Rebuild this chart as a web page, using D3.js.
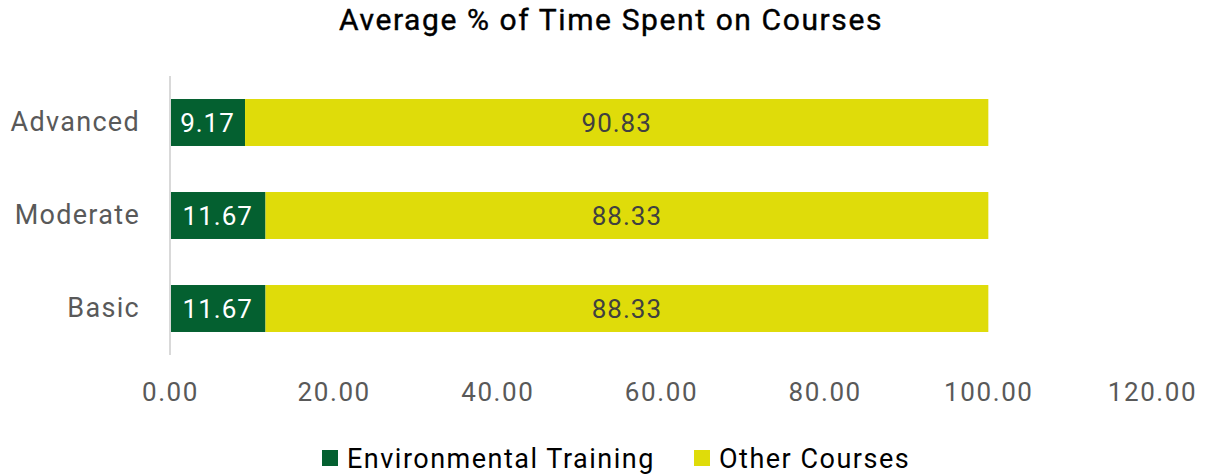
<!DOCTYPE html>
<html>
<head>
<meta charset="utf-8">
<script src="https://cdn.jsdelivr.net/npm/d3@7"></script>
<style>
  body { margin: 0; background: #fff; }
  text { font-family: Roboto, "Noto Sans", sans-serif; }
</style>
</head>
<body>
<div class="chart"></div>
<script>
const categories = ['Advanced', 'Moderate', 'Basic']
const envTraining = [9.17, 11.67, 11.67]
const otherCourses = [90.83, 88.33, 88.33]
const seriesNames = ['Environmental Training', 'Other Courses']
const xTicks = [0, 20, 40, 60, 80, 100, 120]

const width = 1209
const height = 476
const margin = {top: 76, right: 57, bottom: 121, left: 170}
const colors = ['#046030', '#dfdc0a']

const svg = d3.select('.chart').append('svg')
  .attr('width', width)
  .attr('height', height)

const x = d3.scaleLinear()
  .domain([0, 120])
  .range([margin.left, 1152])

const y = d3.scaleBand()
  .domain(categories)
  .range([margin.top, height - margin.bottom])
  .paddingInner(0.495)
  .paddingOuter(0.2475)

// title
svg.append('text')
  .attr('x', 611)
  .attr('y', 30)
  .attr('text-anchor', 'middle')
  .attr('font-size', 30)
  .attr('letter-spacing', 1.6)
  .attr('fill', '#000')
  .style('stroke', '#000')
  .style('stroke-width', 0.4)
  .text('Average % of Time Spent on Courses')

// stacked rows
const rows = categories.map((c, i) => ({
  cat: c,
  segs: [
    {x0: 0, x1: envTraining[i], v: envTraining[i], k: 0},
    {x0: envTraining[i], x1: envTraining[i] + otherCourses[i], v: otherCourses[i], k: 1}
  ]
}))

const g = svg.selectAll('g.row')
  .data(rows)
  .join('g')
  .attr('class', 'row')
  .attr('transform', d => `translate(0,${y(d.cat)})`)

g.selectAll('rect')
  .data(d => d.segs)
  .join('rect')
  .attr('x', d => x(d.x0))
  .attr('width', d => x(d.x1) - x(d.x0))
  .attr('height', y.bandwidth())
  .attr('fill', d => colors[d.k])

g.selectAll('text.lbl')
  .data(d => d.segs)
  .join('text')
  .attr('class', 'lbl')
  .attr('x', d => (x(d.x0) + x(d.x1)) / 2)
  .attr('y', y.bandwidth() / 2)
  .attr('dy', '0.38em')
  .attr('text-anchor', 'middle')
  .attr('font-size', 26)
  .attr('letter-spacing', 1)
  .attr('fill', d => d.k === 0 ? '#ffffff' : '#404040')
  .text(d => d3.format('.2f')(d.v))

// category axis
const yAxis = svg.append('g')
  .attr('transform', `translate(${margin.left},0)`)
  .call(d3.axisLeft(y).tickSize(0).tickPadding(30))
yAxis.select('.domain').attr('stroke', '#d9d9d9').attr('stroke-width', 2)
  .attr('d', `M0,${margin.top}V${height - margin.bottom}`)
yAxis.selectAll('text')
  .attr('font-size', 27)
  .attr('letter-spacing', 1.3)
  .attr('fill', '#595959')
  .attr('font-family', 'Roboto, "Noto Sans", sans-serif')

// value axis (labels only)
const xAxis = svg.append('g')
  .attr('transform', `translate(0,${height - margin.bottom})`)
  .call(d3.axisBottom(x).tickValues(xTicks).tickSize(0).tickPadding(28).tickFormat(d3.format('.2f')))
xAxis.select('.domain').remove()
xAxis.selectAll('text')
  .attr('font-size', 26)
  .attr('letter-spacing', 1.6)
  .attr('fill', '#595959')
  .attr('font-family', 'Roboto, "Noto Sans", sans-serif')

// legend
const legendItems = [
  {name: seriesNames[0], color: colors[0], x: 322},
  {name: seriesNames[1], color: colors[1], x: 694}
]
const lg = svg.selectAll('g.legend')
  .data(legendItems)
  .join('g')
  .attr('class', 'legend')
  .attr('transform', d => `translate(${d.x},458)`)
lg.append('rect')
  .attr('x', 0).attr('y', -8)
  .attr('width', 16).attr('height', 16)
  .attr('fill', d => d.color)
lg.append('text')
  .attr('x', 25)
  .attr('dy', '0.36em')
  .attr('font-size', 27)
  .attr('letter-spacing', 1.5)
  .attr('fill', '#000')
  .text(d => d.name)
</script>
</body>
</html>
